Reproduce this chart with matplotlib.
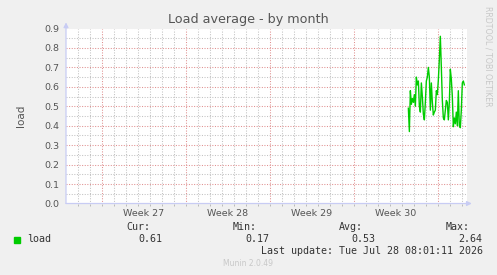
import numpy as np
import matplotlib
matplotlib.use('Agg')
import matplotlib.pyplot as plt

# load average samples, 2-hour resolution, first sample at day 28.55 of the window
start_day = 28.55
step_day = 1 / 12
load = [0.49, 0.37, 0.58, 0.51, 0.54, 0.52, 0.56, 0.50, 0.65, 0.61,
        0.63, 0.50, 0.47, 0.62, 0.55, 0.46, 0.43, 0.52, 0.63, 0.65,
        0.70, 0.65, 0.48, 0.62, 0.52, 0.455, 0.47, 0.48, 0.58, 0.56,
        0.635, 0.74, 0.86, 0.70, 0.53, 0.44, 0.43, 0.48, 0.53, 0.52,
        0.43, 0.52, 0.69, 0.64, 0.55, 0.395, 0.44, 0.41, 0.47, 0.40,
        0.58, 0.40, 0.39, 0.48, 0.62, 0.63, 0.61]

week_labels = ['Week 27', 'Week 28', 'Week 29', 'Week 30']
week_starts = [3, 10, 17, 24, 31]
y_ticks = [0.0, 0.1, 0.2, 0.3, 0.4, 0.5, 0.6, 0.7, 0.8, 0.9]

stats_names = ['Cur:', 'Min:', 'Avg:', 'Max:']
stats_values = ['0.61', '0.17', '0.53', '2.64']

W, H = 497, 275
bg = '#f0f0f0'
fig = plt.figure(figsize=(W / 100, H / 100), dpi=100, facecolor=bg)
ax = fig.add_axes([66 / W, 1 - 203.5 / H, 401 / W, 175 / H])
ax.set_facecolor('white')

x_max = 33.44
ax.set_xlim(0, x_max)
ax.set_ylim(0, 0.9)

minor_c = '#c2c2c2'
major_c = '#e09090'
dots = (0, (1, 1.5))
for d in range(1, 34):
    c = major_c if d in week_starts else minor_c
    ax.axvline(d, color=c, lw=0.75, ls=dots, zorder=1)
for v in np.arange(0.05, 0.9, 0.05):
    c = major_c if round(v * 20) % 2 == 0 else minor_c
    ax.axhline(v, color=c, lw=0.75, ls=dots, zorder=1)
ax.axhline(0.9, color=major_c, lw=0.75, ls=dots, zorder=1)

t = start_day + step_day * np.arange(len(load))
ax.plot(t, load, color='#00cc00', lw=1.0, zorder=3)

for s in ax.spines.values():
    s.set_visible(False)

# axes with arrow heads
axis_c = '#c8ccf4'
ax.annotate('', xy=(0, 1.035), xytext=(0, 0), xycoords='axes fraction',
            arrowprops=dict(arrowstyle='-|>', color=axis_c, lw=0.9,
                            mutation_scale=7, shrinkA=0, shrinkB=0),
            annotation_clip=False)
ax.annotate('', xy=(1.012, 0), xytext=(0, 0), xycoords='axes fraction',
            arrowprops=dict(arrowstyle='-|>', color=axis_c, lw=0.9,
                            mutation_scale=7, shrinkA=0, shrinkB=0),
            annotation_clip=False)

ax.set_yticks(y_ticks)
ax.set_yticklabels(['%.1f' % v for v in y_ticks])
ax.set_xticks([(a + b) / 2 for a, b in zip(week_starts[:-1], week_starts[1:])])
ax.set_xticklabels(week_labels)
ax.set_xticks(range(1, 34), minor=True)
ax.tick_params(axis='both', length=0, labelsize=6.8, colors='#555555')
ax.tick_params(axis='x', which='minor', length=1.5, width=0.6, color='#b0b0b0')
ax.tick_params(axis='y', pad=5)
ax.tick_params(axis='x', which='major', pad=4)
ax.set_ylabel('load', fontsize=7.5, color='#555555', labelpad=13)

fig.text(248 / W, 1 - 19 / H, 'Load average - by month', ha='center', va='center',
         fontsize=9.2, color='#555555')
fig.text(488 / W, 1 - 56 / H, 'RRDTOOL / TOBI OETIKER', rotation=270, ha='center',
         va='center', fontsize=5.7, color='#c8c8c8')

# legend block
mono = 'DejaVu Sans Mono'
fig.patches.append(plt.Rectangle((14 / W, 1 - 242.5 / H), 6 / W, 6 / H,
                                 transform=fig.transFigure, color='#00cc00'))
fig.text(27 / W, 1 - 239.5 / H, 'load', family=mono, fontsize=7.2,
         color='#333333', va='center')
name_right = [150, 257, 363.3, 470]
val_right = [162.7, 269.3, 375.3, 482.7]
for nm, vl, nx, vx in zip(stats_names, stats_values, name_right, val_right):
    fig.text(nx / W, 1 - 227.5 / H, nm, family=mono, fontsize=7.2,
             color='#333333', ha='right', va='center')
    fig.text(vx / W, 1 - 239.5 / H, vl, family=mono, fontsize=7.2,
             color='#333333', ha='right', va='center')
fig.text(482.7 / W, 1 - 251.5 / H, 'Last update: Tue Jul 28 08:01:11 2026',
         family=mono, fontsize=7.2, color='#333333', ha='right', va='center')
fig.text(248 / W, 1 - 264 / H, 'Munin 2.0.49', fontsize=5.5, color='#c8c8c8',
         ha='center', va='center')

fig.savefig('out.png', dpi=100, facecolor=bg)
